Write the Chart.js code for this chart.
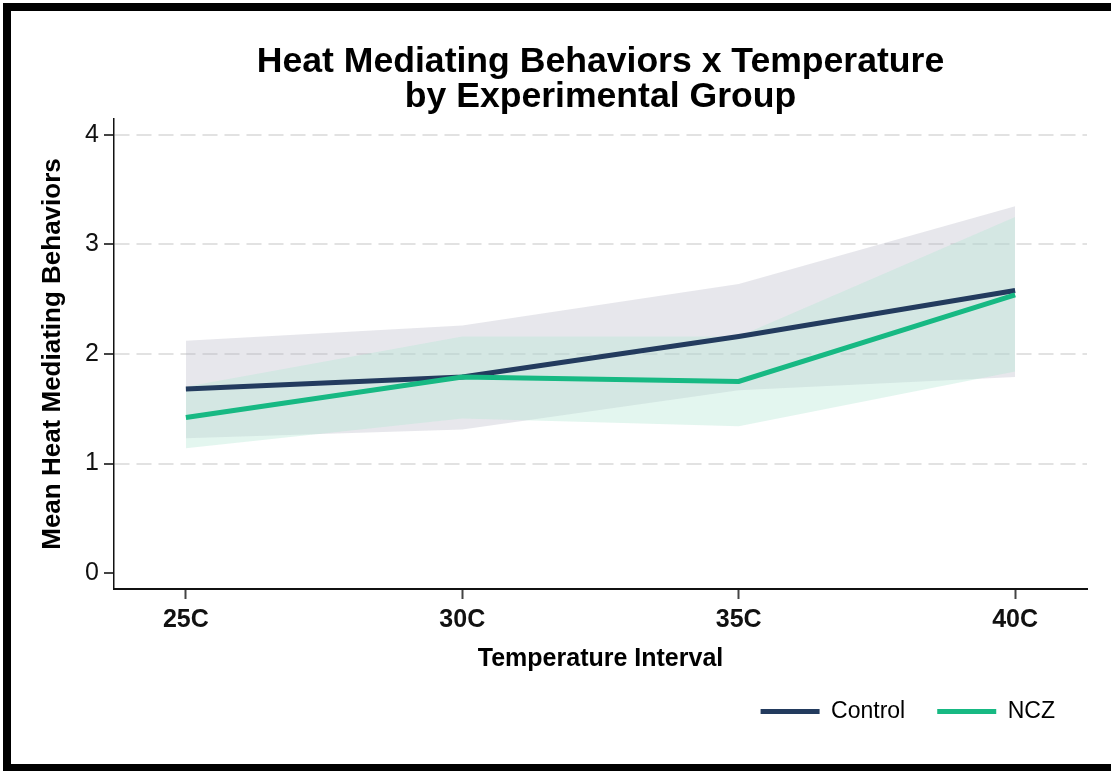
<!DOCTYPE html>
<html>
<head>
<meta charset="utf-8">
<script src="https://cdn.jsdelivr.net/npm/chart.js@4"></script>
<style>
  html,body{margin:0;padding:0;background:#fff;}
  #wrap{position:relative;width:1111px;height:771px;overflow:hidden;}
  #frame{position:absolute;left:3px;top:3px;width:1130px;height:753px;border:8px solid #000;pointer-events:none;}
</style>
</head>
<body>
<div id="wrap">
  <canvas id="chart"></canvas>
  <div id="frame"></div>
</div>
<script>
const categories = ['25C','30C','35C','40C'];
const seriesNames = ['Control','NCZ'];
const controlMean  = [1.68, 1.79, 2.16, 2.58];
const controlUpper = [2.12, 2.26, 2.64, 3.35];
const controlLower = [1.23, 1.31, 1.67, 1.79];
const nczMean  = [1.42, 1.79, 1.75, 2.54];
const nczUpper = [1.70, 2.16, 2.16, 3.25];
const nczLower = [1.14, 1.41, 1.34, 1.84];
const yTicks = [0,1,2,3,4];

const lineColors = ['#233b5e','#17b983'];
const bandColors = ['rgba(175,175,192,0.3)','rgba(180,231,212,0.375)'];
const font = "'Liberation Sans', Arial, sans-serif";

const pts = arr => arr.map((v,i)=>({x:i, y:v}));

function band(upper, lower, color){
  return [
    {data:pts(upper), fill:'+1', backgroundColor:color, borderWidth:0, borderColor:'transparent', pointRadius:0},
    {data:pts(lower), fill:false, borderWidth:0, borderColor:'transparent', pointRadius:0}
  ];
}

const ctx = document.getElementById('chart').getContext('2d');
new Chart(ctx, {
  type:'line',
  data:{
    datasets:[
      {label:'NCZ', data:pts(nczMean), borderColor:lineColors[1], borderWidth:5, pointRadius:0, fill:false, tension:0},
      {label:'Control', data:pts(controlMean), borderColor:lineColors[0], borderWidth:5, pointRadius:0, fill:false, tension:0},
      ...band(nczUpper, nczLower, bandColors[1]),
      ...band(controlUpper, controlLower, bandColors[0])
    ]
  },
  options:{
    responsive:true,
    maintainAspectRatio:false,
    animation:false,
    layout:{padding:{left:10, right:24, top:0, bottom:38}},
    plugins:{
      tooltip:{enabled:false},
      title:{
        display:true,
        fullSize:false,
        text:['Heat Mediating Behaviors x Temperature','by Experimental Group'],
        color:'#000',
        font:{family:font, size:35.6, weight:'bold', lineHeight:1.0},
        padding:{top:44, bottom:3.8}
      },
      legend:{
        display:true,
        position:'bottom',
        align:'end',
        fullSize:false,
        labels:{
          boxWidth:59, boxHeight:5, padding:32,
          color:'#111',
          font:{family:font, size:23},
          generateLabels: chart => seriesNames.map((name,i)=>({
            text:name, fillStyle:lineColors[i], strokeStyle:lineColors[i], lineWidth:0, hidden:false, datasetIndex:1-i
          }))
        }
      }
    },
    scales:{
      x:{
        type:'linear',
        min:-0.26, max:3.26,
        afterBuildTicks: s => { s.ticks = categories.map((c,i)=>({value:i})); },
        ticks:{
          callback: v => categories[v],
          color:'#111', padding:6,
          font:{family:font, size:25, weight:'bold'}
        },
        grid:{drawOnChartArea:false, tickLength:10, tickColor:'#444', tickWidth:2},
        border:{color:'#111', width:2},
        title:{display:true, text:'Temperature Interval', color:'#000',
          font:{family:font, size:25, weight:'bold'}, padding:{top:3, bottom:-6}}
      },
      y:{
        min:-0.146, max:4.146,
        afterBuildTicks: s => { s.ticks = yTicks.map(v=>({value:v})); },
        afterFit: s => { s.width = 104; },
        ticks:{color:'#111', padding:5, font:{family:font, size:25}},
        grid:{
          color: c => c.tick && c.tick.value === 0 ? 'rgba(0,0,0,0)' : '#e2e2e2',
          lineWidth:2,
          tickLength:10, tickColor:'#444', tickWidth:2, tickBorderDash:[]
        },
        border:{color:'#111', width:1.5, dash:[15,7]},
        title:{display:true, text:'Mean Heat Mediating Behaviors', color:'#000',
          font:{family:font, size:26, weight:'bold'}, padding:{top:27, bottom:10}}
      }
    }
  }
});
</script>
</body>
</html>
